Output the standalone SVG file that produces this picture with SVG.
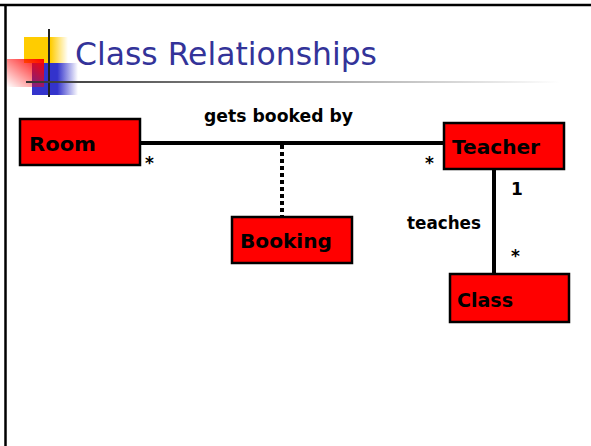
<svg xmlns="http://www.w3.org/2000/svg" width="591" height="446" viewBox="0 0 591 446">
<style>
.node rect{fill:#ff0000;stroke:#000;stroke-width:2.5}
.node text{font-family:"DejaVu Sans",Verdana,sans-serif;font-weight:bold;font-size:20px;fill:#000}
.lbl{font-family:"DejaVu Sans",Verdana,sans-serif;font-weight:bold;font-size:17px;fill:#000}
.conn{stroke:#000;stroke-width:4;fill:none}
</style>
<defs>
<linearGradient id="gy" x1="0" x2="1" y1="0" y2="0"><stop offset="0" stop-color="#ffcc00"/><stop offset="0.6" stop-color="#ffcc00"/><stop offset="1" stop-color="#ffcc00" stop-opacity="0"/></linearGradient>
<linearGradient id="gb" x1="0" x2="1" y1="0" y2="0"><stop offset="0" stop-color="#3333cc"/><stop offset="0.55" stop-color="#3333cc"/><stop offset="1" stop-color="#3333cc" stop-opacity="0"/></linearGradient>
<linearGradient id="gr" x1="1" y1="0" x2="0" y2="1"><stop offset="0" stop-color="#ff0000" stop-opacity="1"/><stop offset="1" stop-color="#ff0000" stop-opacity="0"/></linearGradient>
<linearGradient id="gl" gradientUnits="userSpaceOnUse" x1="26" y1="0" x2="560" y2="0"><stop offset="0" stop-color="#333333"/><stop offset="1" stop-color="#ffffff"/></linearGradient>
</defs>
<rect x="0" y="0" width="591" height="446" fill="#fff"/>
<line x1="0" y1="5" x2="591" y2="5" stroke="#000" stroke-width="2.5"/>
<line x1="5.5" y1="4" x2="5.5" y2="446" stroke="#000" stroke-width="2.5"/>
<g id="logo">
<rect x="24" y="37" width="44" height="26" fill="url(#gy)"/>
<rect x="32" y="63" width="46" height="32" fill="url(#gb)"/>
<rect x="7" y="59" width="37" height="28" fill="url(#gr)"/>
<line x1="49" y1="29" x2="49" y2="97" stroke="#222" stroke-width="2"/>
<rect x="26" y="81" width="534" height="2" fill="url(#gl)"/>
</g>
<text x="75" y="65" font-family="DejaVu Sans,Verdana,sans-serif" font-size="32" fill="#333399" textLength="302" lengthAdjust="spacingAndGlyphs">Class Relationships</text>
<g id="connectors">
<line class="conn" x1="138" y1="143" x2="444" y2="143"/>
<line class="conn" x1="282" y1="145" x2="282" y2="217" stroke-dasharray="4 3"/>
<line class="conn" x1="494" y1="169" x2="494" y2="274"/>
<text class="lbl" x="204" y="122" textLength="149" lengthAdjust="spacingAndGlyphs">gets booked by</text>
<text class="lbl" x="145" y="169">*</text>
<text class="lbl" x="425" y="169">*</text>
<text class="lbl" x="511" y="195">1</text>
<text class="lbl" x="407" y="229" textLength="74" lengthAdjust="spacingAndGlyphs">teaches</text>
<text class="lbl" x="511" y="262">*</text>
</g>
<g id="room" class="node"><rect x="20" y="119" width="120" height="46"/><text x="29" y="151" textLength="67" lengthAdjust="spacingAndGlyphs">Room</text></g>
<g id="booking" class="node"><rect x="232" y="217" width="120" height="46"/><text x="240" y="248" textLength="92" lengthAdjust="spacingAndGlyphs">Booking</text></g>
<g id="teacher" class="node"><rect x="444" y="123" width="120" height="46"/><text x="452" y="154" textLength="88" lengthAdjust="spacingAndGlyphs">Teacher</text></g>
<g id="class" class="node"><rect x="450" y="274" width="119" height="48"/><text x="457" y="307" textLength="56" lengthAdjust="spacingAndGlyphs">Class</text></g>
</svg>
